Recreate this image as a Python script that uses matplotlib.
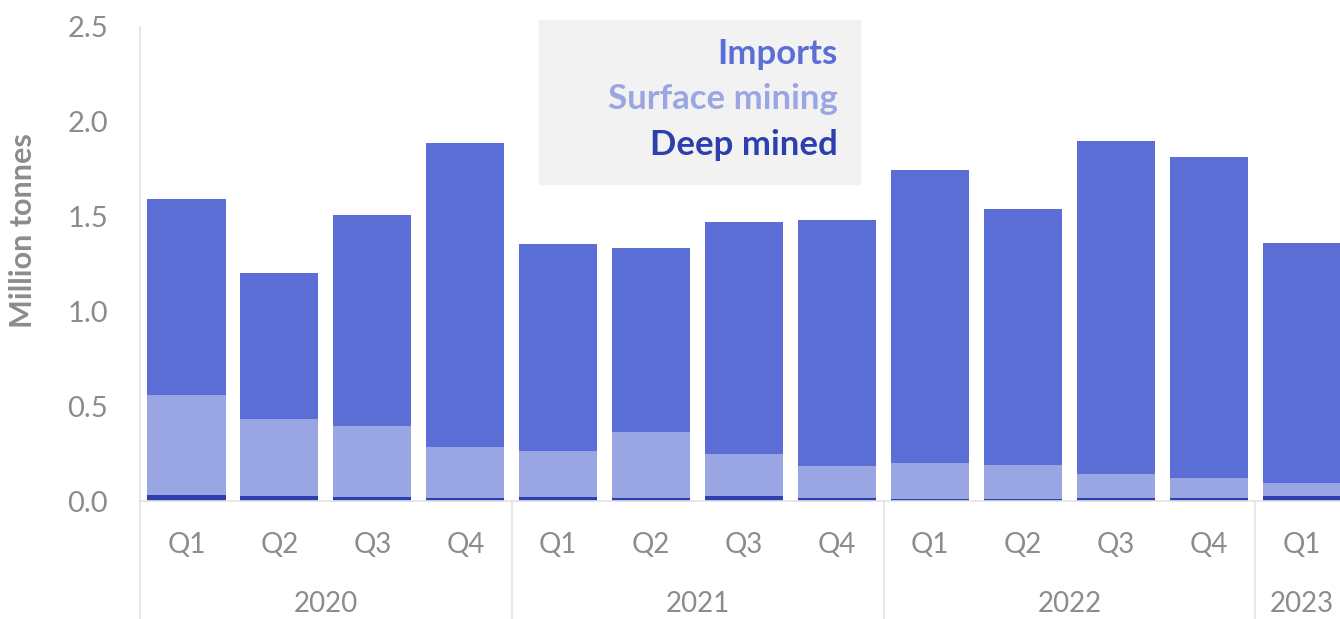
import matplotlib.pyplot as plt
from matplotlib.lines import Line2D

plt.rcParams['font.family'] = ['Lato', 'DejaVu Sans']

quarters = ["Q1", "Q2", "Q3", "Q4", "Q1", "Q2", "Q3", "Q4", "Q1", "Q2", "Q3", "Q4", "Q1"]
years = ["2020", "2021", "2022", "2023"]
year_centres = [1.5, 5.5, 9.5, 12.0]

# million tonnes per quarter
deep_mined = [0.030, 0.026, 0.019, 0.014, 0.023, 0.018, 0.025, 0.014,
              0.009, 0.009, 0.014, 0.014, 0.025]
surface_top = [0.558, 0.435, 0.395, 0.284, 0.262, 0.363, 0.246, 0.183,
               0.198, 0.190, 0.140, 0.123, 0.093]
total = [1.595, 1.200, 1.510, 1.890, 1.358, 1.337, 1.474, 1.484,
         1.747, 1.542, 1.900, 1.816, 1.363]
surface_mining = [s - d for s, d in zip(surface_top, deep_mined)]
imports = [t - s for t, s in zip(total, surface_top)]

c_imports = "#5b6ed6"
c_surface = "#9aa6e3"
c_deep = "#2b3fae"
grey = "#8c8c8c"
line_grey = "#e3e3e3"

fig = plt.figure(figsize=(13.4, 6.19), dpi=100)
ax = fig.add_axes([0.1045, 0.1906, 0.8955, 0.7658])
ax.set_zorder(1)
ax.patch.set_visible(False)

x = list(range(len(quarters)))
w = 0.84
ax.bar(x, deep_mined, w, color=c_deep, linewidth=0)
ax.bar(x, surface_mining, w, bottom=deep_mined, color=c_surface, linewidth=0)
ax.bar(x, imports, w, bottom=surface_top, color=c_imports, linewidth=0)

ax.set_xlim(-0.5, 12.41)
ax.set_ylim(0, 2.5)
ax.set_yticks([0, 0.5, 1.0, 1.5, 2.0, 2.5])
ax.set_yticklabels(["0.0", "0.5", "1.0", "1.5", "2.0", "2.5"])
ax.set_xticks(x)
ax.set_xticklabels(quarters)
ax.tick_params(axis="both", length=0, colors=grey, labelsize=20)
ax.tick_params(axis="x", pad=22)
ax.tick_params(axis="y", pad=23, labelsize=21)
for s in ["top", "right", "left"]:
    ax.spines[s].set_visible(False)
ax.spines["bottom"].set_color(line_grey)
ax.spines["bottom"].set_linewidth(1.2)

ax.set_ylabel("Million tonnes", fontsize=22, fontweight="bold", color=grey)
ax.yaxis.set_label_coords(-0.0855, 0.57)

# left rule and year separators run down to the figure bottom
trans = ax.get_xaxis_transform()
fig.add_artist(Line2D([0.1045, 0.1045], [0.0, 0.9564], color=line_grey, lw=1.2))
for xs in [3.5, 7.5, 11.5]:
    ax.add_line(Line2D([xs, xs], [0, -0.25], transform=trans, color=line_grey,
                       lw=1.2, clip_on=False))

for yr, xc in zip(years, year_centres):
    ax.text(xc, -0.218, yr, transform=trans, ha="center", va="center",
            fontsize=20, color=grey)

# legend panel
fig.add_artist(plt.Rectangle((539 / 1340, 1 - 184 / 619), 321 / 1340, 164 / 619,
                             transform=fig.transFigure, color="#f2f2f2", zorder=0))
for label, col, ypx in [("Imports", c_imports, 54), ("Surface mining", c_surface, 99),
                        ("Deep mined", c_deep, 145)]:
    fig.text(838 / 1340, 1 - ypx / 619, label, ha="right", va="center",
             fontsize=25, fontweight="bold", color=col, zorder=2)

fig.savefig("out.png", dpi=100)
